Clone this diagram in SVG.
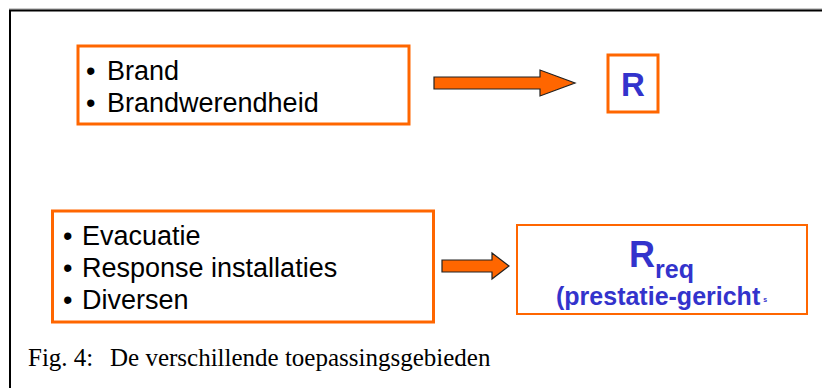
<svg xmlns="http://www.w3.org/2000/svg" width="822" height="388" viewBox="0 0 822 388">
<style>
.box{fill:#fff;stroke:#FF6600;stroke-width:3}
.lst{font-family:"Liberation Sans",Arial,sans-serif;font-size:27px;fill:#000}
.blue{font-family:"Liberation Sans",Arial,sans-serif;font-weight:bold;fill:#3333CC}
.arrow{fill:#FF6600;stroke:#222;stroke-width:1.2}
.cap{font-family:"Liberation Serif","Times New Roman",serif;font-size:25px;fill:#000}
</style>
<rect width="822" height="388" fill="#fff"/>
<line x1="9" y1="9" x2="822" y2="9" stroke="#999" stroke-width="1"/>
<path d="M10 388 V10.5 H822" fill="none" stroke="#000" stroke-width="2"/>
<g id="box1">
<rect class="box" x="78" y="46" width="331" height="78"/>
<text class="lst" x="86" y="80">•</text><text class="lst" x="107" y="80">Brand</text>
<text class="lst" x="86" y="112">•</text><text class="lst" x="107" y="112">Brandwerendheid</text>
</g>
<g id="boxR">
<rect class="box" x="608" y="55" width="50" height="57"/>
<text class="blue" x="633" y="96" font-size="33" text-anchor="middle">R</text>
</g>
<g id="box2">
<rect class="box" x="52.5" y="211" width="381" height="111"/>
<text class="lst" x="63" y="245">•</text><text class="lst" x="82" y="245">Evacuatie</text>
<text class="lst" x="63" y="277">•</text><text class="lst" x="82" y="277">Response installaties</text>
<text class="lst" x="63" y="309">•</text><text class="lst" x="82" y="309">Diversen</text>
</g>
<g id="boxRreq">
<rect x="517" y="225" width="290" height="89" fill="#fff" stroke="#FF6600" stroke-width="2"/>
<text class="blue" x="629" y="267" font-size="36">R<tspan font-size="25" dy="11">req</tspan></text>
<text class="blue" x="556" y="305" font-size="25">(prestatie-gericht<tspan font-size="7" dx="3" dy="-3">s</tspan></text>
</g>
<g id="connectors">
<polygon class="arrow" points="434,77 540,77 540,70 575,83 540,96 540,89 434,89"/>
<polygon class="arrow" points="442,260 492,260 492,253 509,266 492,279 492,272 442,272"/>
</g>
<text class="cap" x="28" y="366">Fig. 4:</text>
<text class="cap" x="110" y="366">De verschillende toepassingsgebieden</text>
</svg>
